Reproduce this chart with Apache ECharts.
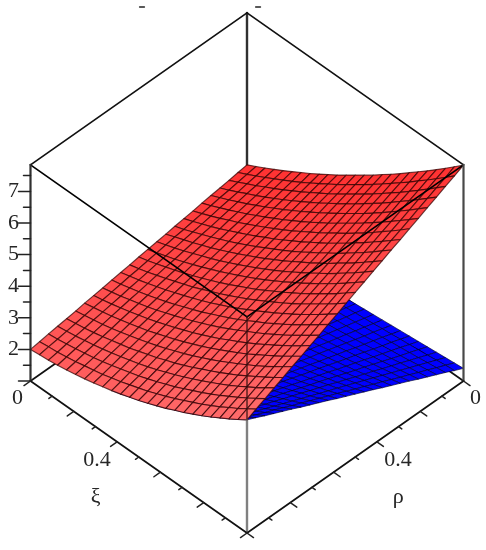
<!DOCTYPE html>
<html><head><meta charset="utf-8">
<style>html,body{margin:0;padding:0;background:#fff}#c{width:486px;height:550px;filter:blur(0.4px)}</style>
<script src="https://cdn.jsdelivr.net/npm/echarts@6/dist/echarts.min.js"></script>
</head><body><div id="c"></div>
<script>
// Rows run over xi = 0 .. 1 (24 steps); columns over rho = 0 .. 1 (24 steps)
const redZ = [
[3.03,2.99,2.94,2.90,2.86,2.82,2.77,2.73,2.69,2.64,2.60,2.56,2.52,2.47,2.43,2.39,2.34,2.30,2.26,2.21,2.17,2.13,2.09,2.04,2.00],
[3.18,3.13,3.08,3.03,2.99,2.94,2.89,2.84,2.79,2.75,2.70,2.65,2.60,2.55,2.51,2.46,2.41,2.36,2.32,2.27,2.22,2.17,2.12,2.08,2.03],
[3.33,3.28,3.23,3.17,3.12,3.07,3.01,2.96,2.91,2.86,2.80,2.75,2.70,2.64,2.59,2.54,2.48,2.43,2.38,2.33,2.27,2.22,2.17,2.11,2.06],
[3.49,3.43,3.37,3.32,3.26,3.20,3.14,3.08,3.03,2.97,2.91,2.85,2.80,2.74,2.68,2.62,2.57,2.51,2.45,2.39,2.33,2.28,2.22,2.16,2.10],
[3.65,3.59,3.53,3.46,3.40,3.34,3.28,3.21,3.15,3.09,3.03,2.96,2.90,2.84,2.78,2.71,2.65,2.59,2.53,2.46,2.40,2.34,2.28,2.21,2.15],
[3.82,3.75,3.68,3.61,3.55,3.48,3.41,3.35,3.28,3.21,3.15,3.08,3.01,2.95,2.88,2.81,2.74,2.68,2.61,2.54,2.48,2.41,2.34,2.28,2.21],
[3.99,3.91,3.84,3.77,3.70,3.63,3.56,3.49,3.41,3.34,3.27,3.20,3.13,3.06,2.99,2.91,2.84,2.77,2.70,2.63,2.56,2.49,2.41,2.34,2.27],
[4.16,4.08,4.01,3.93,3.86,3.78,3.71,3.63,3.55,3.48,3.40,3.33,3.25,3.17,3.10,3.02,2.95,2.87,2.79,2.72,2.64,2.57,2.49,2.41,2.34],
[4.34,4.26,4.18,4.10,4.02,3.94,3.86,3.78,3.70,3.62,3.54,3.46,3.38,3.30,3.22,3.14,3.06,2.98,2.90,2.82,2.74,2.66,2.58,2.50,2.42],
[4.53,4.44,4.36,4.27,4.19,4.10,4.02,3.94,3.85,3.77,3.68,3.60,3.51,3.43,3.34,3.26,3.18,3.09,3.01,2.92,2.84,2.75,2.67,2.58,2.50],
[4.71,4.63,4.54,4.45,4.36,4.27,4.18,4.09,4.01,3.92,3.83,3.74,3.65,3.56,3.47,3.38,3.30,3.21,3.12,3.03,2.94,2.85,2.76,2.68,2.59],
[4.91,4.81,4.72,4.63,4.54,4.44,4.35,4.26,4.17,4.07,3.98,3.89,3.80,3.70,3.61,3.52,3.43,3.33,3.24,3.15,3.06,2.96,2.87,2.78,2.69],
[5.11,5.01,4.91,4.82,4.72,4.62,4.53,4.43,4.33,4.24,4.14,4.04,3.95,3.85,3.75,3.66,3.56,3.46,3.37,3.27,3.17,3.08,2.98,2.88,2.79],
[5.31,5.21,5.11,5.01,4.91,4.81,4.71,4.60,4.50,4.40,4.30,4.20,4.10,4.00,3.90,3.80,3.70,3.60,3.50,3.40,3.30,3.20,3.10,3.00,2.90],
[5.51,5.41,5.31,5.20,5.10,4.99,4.89,4.79,4.68,4.58,4.47,4.37,4.27,4.16,4.06,3.95,3.85,3.74,3.64,3.54,3.43,3.33,3.22,3.12,3.02],
[5.73,5.62,5.51,5.40,5.30,5.19,5.08,4.97,4.87,4.76,4.65,4.54,4.44,4.33,4.22,4.11,4.01,3.90,3.79,3.68,3.58,3.47,3.36,3.25,3.14],
[5.94,5.83,5.72,5.61,5.50,5.39,5.28,5.16,5.05,4.94,4.83,4.72,4.61,4.50,4.39,4.28,4.17,4.05,3.94,3.83,3.72,3.61,3.50,3.39,3.28],
[6.16,6.05,5.93,5.82,5.70,5.59,5.47,5.36,5.25,5.13,5.02,4.90,4.79,4.67,4.56,4.44,4.33,4.21,4.10,3.99,3.87,3.76,3.64,3.53,3.41],
[6.39,6.27,6.15,6.03,5.91,5.80,5.68,5.56,5.44,5.32,5.21,5.09,4.97,4.85,4.74,4.62,4.50,4.38,4.26,4.15,4.03,3.91,3.79,3.67,3.56],
[6.62,6.49,6.37,6.25,6.13,6.01,5.89,5.77,5.65,5.53,5.40,5.28,5.16,5.04,4.92,4.80,4.68,4.56,4.44,4.32,4.19,4.07,3.95,3.83,3.71],
[6.85,6.73,6.60,6.48,6.35,6.23,6.10,5.98,5.86,5.73,5.61,5.48,5.36,5.24,5.11,4.99,4.86,4.74,4.62,4.49,4.37,4.24,4.12,3.99,3.87],
[7.09,6.96,6.83,6.71,6.58,6.45,6.33,6.20,6.07,5.94,5.82,5.69,5.56,5.44,5.31,5.18,5.05,4.93,4.80,4.67,4.55,4.42,4.29,4.17,4.04],
[7.33,7.20,7.07,6.94,6.81,6.68,6.55,6.42,6.29,6.16,6.03,5.90,5.77,5.64,5.51,5.38,5.25,5.12,4.99,4.86,4.73,4.60,4.47,4.34,4.21],
[7.58,7.44,7.31,7.18,7.05,6.91,6.78,6.65,6.52,6.38,6.25,6.12,5.99,5.85,5.72,5.59,5.45,5.32,5.19,5.06,4.92,4.79,4.66,4.53,4.39],
[7.83,7.69,7.56,7.42,7.29,7.15,7.02,6.88,6.75,6.61,6.48,6.34,6.21,6.07,5.93,5.80,5.66,5.53,5.39,5.26,5.12,4.99,4.85,4.72,4.58]
];
// The blue sheet is only seen from xi = 9/24 onward; the rest sits behind the red one
const blueFirstRow = 9;
const blueZ = [
[0.95,1.01,1.08,1.14,1.21,1.27,1.34,1.40,1.47,1.53,1.60,1.66,1.73,1.79,1.85,1.92,1.98,2.05,2.11,2.18,2.24,2.31,2.37,2.44,2.50],
[0.98,1.05,1.11,1.18,1.25,1.32,1.38,1.45,1.52,1.58,1.65,1.72,1.79,1.85,1.92,1.99,2.05,2.12,2.19,2.25,2.32,2.39,2.46,2.52,2.59],
[1.01,1.08,1.15,1.22,1.29,1.36,1.43,1.50,1.57,1.64,1.71,1.78,1.85,1.92,1.99,2.06,2.13,2.20,2.27,2.34,2.41,2.48,2.55,2.62,2.69],
[1.04,1.11,1.19,1.26,1.33,1.40,1.48,1.55,1.62,1.70,1.77,1.84,1.92,1.99,2.06,2.13,2.21,2.28,2.35,2.43,2.50,2.57,2.64,2.72,2.79],
[1.07,1.15,1.22,1.30,1.38,1.45,1.53,1.60,1.68,1.76,1.83,1.91,1.99,2.06,2.14,2.21,2.29,2.37,2.44,2.52,2.60,2.67,2.75,2.82,2.90],
[1.10,1.18,1.26,1.34,1.42,1.50,1.58,1.66,1.74,1.82,1.90,1.98,2.06,2.14,2.22,2.30,2.38,2.46,2.54,2.62,2.70,2.78,2.86,2.94,3.02],
[1.13,1.21,1.30,1.38,1.47,1.55,1.63,1.72,1.80,1.88,1.97,2.05,2.14,2.22,2.30,2.39,2.47,2.55,2.64,2.72,2.81,2.89,2.97,3.06,3.14],
[1.16,1.25,1.34,1.42,1.51,1.60,1.69,1.78,1.87,1.95,2.04,2.13,2.22,2.31,2.40,2.48,2.57,2.66,2.75,2.84,2.93,3.01,3.10,3.19,3.28],
[1.19,1.28,1.38,1.47,1.56,1.65,1.75,1.84,1.93,2.02,2.12,2.21,2.30,2.39,2.49,2.58,2.67,2.76,2.86,2.95,3.04,3.13,3.23,3.32,3.41],
[1.22,1.32,1.42,1.51,1.61,1.71,1.81,1.90,2.00,2.10,2.20,2.29,2.39,2.49,2.59,2.68,2.78,2.88,2.98,3.07,3.17,3.27,3.37,3.46,3.56],
[1.25,1.35,1.46,1.56,1.66,1.76,1.87,1.97,2.07,2.17,2.28,2.38,2.48,2.58,2.69,2.79,2.89,2.99,3.10,3.20,3.30,3.40,3.51,3.61,3.71],
[1.28,1.39,1.50,1.60,1.71,1.82,1.93,2.04,2.14,2.25,2.36,2.47,2.58,2.68,2.79,2.90,3.01,3.11,3.22,3.33,3.44,3.55,3.65,3.76,3.87],
[1.31,1.42,1.54,1.65,1.77,1.88,1.99,2.11,2.22,2.33,2.45,2.56,2.68,2.79,2.90,3.02,3.13,3.24,3.36,3.47,3.59,3.70,3.81,3.93,4.04],
[1.34,1.46,1.58,1.70,1.82,1.94,2.06,2.18,2.30,2.42,2.54,2.66,2.78,2.89,3.01,3.13,3.25,3.37,3.49,3.61,3.73,3.85,3.97,4.09,4.21],
[1.37,1.50,1.62,1.75,1.87,2.00,2.12,2.25,2.38,2.50,2.63,2.75,2.88,3.01,3.13,3.26,3.38,3.51,3.63,3.76,3.89,4.01,4.14,4.26,4.39],
[1.40,1.53,1.67,1.80,1.93,2.06,2.20,2.33,2.46,2.59,2.73,2.86,2.99,3.12,3.25,3.39,3.52,3.65,3.78,3.92,4.05,4.18,4.31,4.45,4.58]
];
const zBottom = 1, zTop = 7.84, surfaceFrontZ = 4.58;
const zMajorTicks = [1,2,3,4,5,6,7];
const zMinorTicks = [1.5,2.5,3.5,4.5,5.5,6.5,7.5];
const zTickLabels = [2,3,4,5,6,7];
const planeMajorTicks = [0,0.2,0.4,0.6,0.8,1];
const planeMinorTicks = [0.1,0.3,0.5,0.7,0.9];

// Oblique view: screen-x = xi - rho, screen-y = height minus a share of xi + rho
const SLOPE = 152 / 31.6;
const P = (xi, rho, z) => [xi - rho, (z - 1) - (xi + rho) * SLOPE];

function cells(table, firstRow) {
  const out = [];
  for (let r = 0; r + 1 < table.length; r++) {
    for (let c = 0; c + 1 < table[r].length; c++) {
      const a = (r + firstRow) / 24, b = (r + firstRow + 1) / 24, u = c / 24, v = (c + 1) / 24;
      out.push([...P(a,u,table[r][c]), ...P(b,u,table[r+1][c]), ...P(b,v,table[r+1][c+1]), ...P(a,v,table[r][c+1]), (a+b)/2, (u+v)/2]);
    }
  }
  return out;
}
function surface(name, table, firstRow, fill, stroke, width, z) {
  return {
    type:'custom', name, z, silent:true, progressive:0, animation:false, clip:false,
    coordinateSystem:'cartesian2d', encode:{x:0,y:1},
    data: cells(table, firstRow),
    renderItem(params, api) {
      const pts = [0,2,4,6].map(k => api.coord([api.value(k), api.value(k+1)]));
      return {type:'polygon', shape:{points:pts},
        style:{fill:fill(api.value(8), api.value(9)), stroke, lineWidth:width, lineJoin:'round'}};
    }
  };
}
function segments(name, list, z) {
  return {
    type:'custom', name, z, silent:true, progressive:0, animation:false, clip:false,
    coordinateSystem:'cartesian2d', encode:{x:0,y:1},
    data: list.map(s => [...s.a, ...s.b]),
    renderItem(params, api) {
      const s = list[params.dataIndex];
      const p = api.coord([api.value(0), api.value(1)]);
      const q = api.coord([api.value(2), api.value(3)]);
      const o = s.off || [0,0];
      return {type:'line', shape:{x1:p[0],y1:p[1],x2:q[0]+o[0],y2:q[1]+o[1]},
        style:{stroke:s.c, lineWidth:s.w, lineCap:'round'}};
    }
  };
}
function texts(name, list, z) {
  return {
    type:'custom', name, z, silent:true, progressive:0, animation:false, clip:false,
    coordinateSystem:'cartesian2d', encode:{x:0,y:1},
    data: list.map(s => s.a),
    renderItem(params, api) {
      const s = list[params.dataIndex];
      const p = api.coord([api.value(0), api.value(1)]);
      return {type:'text', style:{text:s.t, x:p[0]+s.off[0], y:p[1]+s.off[1],
        font:'22px "Liberation Serif"', fill:'#262626', align:'center', verticalAlign:'middle'}};
    }
  };
}
const E = (a,b,c,w) => ({a,b,c,w});
const back = [
  E(P(0,0,zBottom),P(0,0,zTop),'#303030',2.4),
  E(P(0,1,zBottom),P(0,0,zBottom),'#111',1.7),
  E(P(1,0,zBottom),P(0,0,zBottom),'#111',1.7)
];
const front = [
  E(P(0,1,zTop),P(0,0,zTop),'#111',1.7),
  E(P(1,0,zTop),P(0,0,zTop),'#111',1.7),
  E(P(0,1,zTop),P(1,1,zTop),'#000',1.7),
  E(P(1,0,zTop),P(1,1,zTop),'#000',1.7),
  E(P(0,1,zBottom),P(0,1,zTop),'#303030',2.2),
  E(P(1,0,zBottom),P(1,0,zTop),'#484848',2.2),
  E(P(1,1,zBottom),P(1,1,surfaceFrontZ),'#808080',2.4),
  E(P(1,1,surfaceFrontZ),P(1,1,zTop),'rgba(50,15,15,0.8)',1.5),
  E(P(0,1,zBottom),P(1,1,zBottom),'#111',1.7),
  E(P(1,0,zBottom),P(1,1,zBottom),'#111',1.7)
];
const ticks = [];
zMajorTicks.forEach(z => ticks.push({a:P(0,1,z),b:P(0,1,z),off:[-12,0],c:'#222',w:1.5}));
zMinorTicks.forEach(z => ticks.push({a:P(0,1,z),b:P(0,1,z),off:[-7,0],c:'#222',w:1.5}));
planeMajorTicks.forEach(t => {
  ticks.push({a:P(t,1,zBottom),b:P(t,1.03,zBottom),c:'#222',w:1.5});
  ticks.push({a:P(1,t,zBottom),b:P(1.03,t,zBottom),c:'#222',w:1.5});
});
planeMinorTicks.forEach(t => {
  ticks.push({a:P(t,1,zBottom),b:P(t,1.015,zBottom),c:'#222',w:1.5});
  ticks.push({a:P(1,t,zBottom),b:P(1.015,t,zBottom),c:'#222',w:1.5});
});
// Two stray clipped tick marks above the box, given in screen-projection units
const strayDashes = [[-0.485,7.025],[0.051,7.025]];
strayDashes.forEach(a => ticks.push({a:[a[0]-0.011,a[1]],b:[a[0]+0.011,a[1]],c:'#222',w:1.5}));

const labels = zTickLabels.map(z => ({a:P(0,1,z),off:[-17,0],t:String(z)}));
labels.push({a:P(0,1,zBottom),off:[-13,17],t:'0'});
labels.push({a:P(1,0,zBottom),off:[12,17],t:'0'});
labels.push({a:P(0.4,1,zBottom),off:[-20,18],t:'0.4'});
labels.push({a:P(1,0.4,zBottom),off:[21,18],t:'0.4'});
labels.push({a:P(0.5,1,zBottom),off:[-43,40],t:'ξ'});
labels.push({a:P(1,0.5,zBottom),off:[43,40],t:'ρ'});

const redFill = (xi, rho) => {
  const g = Math.round(50 + rho * (40 + 18 * xi));
  return `rgb(255,${g},${g})`;
};
const blueFill = () => '#0000ff';

const chart = echarts.init(document.getElementById('c'), null, {renderer:'canvas', width:486, height:550});
chart.setOption({
  animation:false, backgroundColor:'#fff',
  grid:{left:0,right:0,top:0,bottom:0},
  xAxis:{type:'value',show:false,min:-247/216.5,max:239/216.5,scale:true},
  yAxis:{type:'value',show:false,min:(229-550)/31.6,max:229/31.6,scale:true},
  series:[
    segments('box back', back, 1),
    surface('blue surface', blueZ, blueFirstRow, blueFill, 'rgba(0,0,40,0.8)', 0.8, 2),
    surface('red surface', redZ, 0, redFill, 'rgba(50,0,0,0.72)', 1.15, 3),
    segments('box front', front, 4),
    segments('ticks', ticks, 5),
    texts('labels', labels, 6)
  ]
});
</script></body></html>
